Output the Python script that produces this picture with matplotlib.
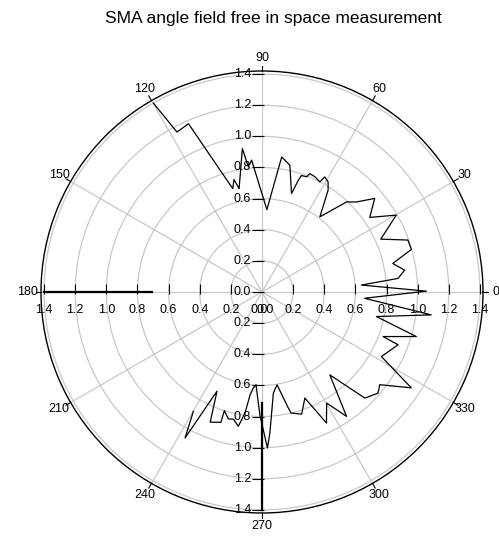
import numpy as np
import matplotlib
matplotlib.use("Agg")
import matplotlib.pyplot as plt
from matplotlib.transforms import offset_copy

plt.rcParams['font.family'] = ['Liberation Sans', 'DejaVu Sans']

# ---- data -------------------------------------------------------------
title = "SMA angle field free in space measurement"
angle_ticks = [0, 30, 60, 90, 120, 150, 180, 210, 240, 270, 300, 330]
radial_ticks = [0.0, 0.2, 0.4, 0.6, 0.8, 1.0, 1.2, 1.4]

# measured field amplitude vs. angle (degrees)
curve_theta_deg = [
    -119.9, -117.8, -114.4, -111.7, -107.5, -107.6, -104.8, -102.7, -100.0,
    -98.0, -96.6, -95.2, -93.7, -91.0, -88.0, -86.8, -83.6, -80.8, -77.3,
    -76.5, -72.0, -68.0, -63.8, -59.8, -55.8, -50.7, -45.9, -41.1, -38.2,
    -32.7, -28.4, -21.2, -20.2, -16.1, -12.1, -7.7, -3.5, 0.3, 4.0, 5.7,
    8.7, 12.3, 15.9, 19.6, 24.0, 29.8, 34.7, 39.7, 43.6, 46.8, 52.4, 57.0,
    59.0, 61.4, 62.3, 65.3, 68.0, 68.8, 71.3, 72.0, 73.3, 77.6, 81.7, 86.6,
    94.5, 96.2, 97.8, 102.5, 104.0, 105.8, 113.6, 118.0, 119.9,
]
curve_r = [
    0.885, 1.06, 0.70, 0.90, 0.878, 0.80, 0.844, 0.837, 0.876,
    0.785, 0.665, 0.62, 0.597, 0.789, 1.003, 0.907, 0.654, 0.604, 0.76,
    0.80, 0.825, 0.735, 0.938, 0.826, 0.966, 0.688, 0.949, 0.989, 0.963,
    1.14, 0.872, 0.938, 0.829, 1.032, 0.752, 1.097, 0.66, 1.056, 0.64, 0.878,
    0.927, 0.86, 0.998, 0.995, 0.835, 0.994, 0.842, 0.941, 0.839, 0.794, 0.609, 0.78,
    0.825, 0.842, 0.799, 0.815, 0.82, 0.794, 0.79, 0.755, 0.66, 0.834, 0.877, 0.53,
    0.85, 0.81, 0.93, 0.68, 0.745, 0.69, 1.18, 1.164, 1.40,
]

# radial spokes of the measurement at 180 and 270 degrees
spoke_theta_deg = [180, 270]
spoke_r_inner = [0.71, 0.71]
spoke_r_outer = [1.40, 1.40]

# ---- figure -----------------------------------------------------------
W, H = 499, 536
fig = plt.figure(figsize=(W / 100, H / 100), dpi=100)
cx, cy = 262, H - 292
rad_px = 221
R_LIM = 1.42
ax = fig.add_axes([(cx - rad_px) / W, (cy - rad_px) / H,
                   2 * rad_px / W, 2 * rad_px / H], projection='polar')
ax.set_ylim(0, R_LIM)
ax.set_xticks(np.deg2rad(angle_ticks))
ax.set_xticklabels([])
ax.set_yticks(radial_ticks[1:])
ax.set_yticklabels([])
ax.tick_params(length=0)
ax.grid(True, color='#c8c8c8', lw=0.9)
ax.spines['polar'].set_color('black')
ax.spines['polar'].set_linewidth(1.0)

# data
ax.plot(np.deg2rad(curve_theta_deg), curve_r, color='black', lw=0.9, zorder=5)
for th, r0, r1 in zip(spoke_theta_deg, spoke_r_inner, spoke_r_outer):
    ax.plot([np.deg2rad(th)] * 2, [r0, r1], color='black', lw=1.6, zorder=5)

fs = 9

# angular labels and outer ticks
for a in angle_ticks:
    t = np.deg2rad(a)
    ax.plot([t, t], [R_LIM, R_LIM + 0.035], color='black', lw=0.8, clip_on=False)
    ax.text(t, 1.505, str(a), ha='center', va='center', fontsize=fs,
            clip_on=False)

# vertical axis labels (left of the axis, upward and downward)
tr_v = offset_copy(ax.transData, fig=fig, x=-11, y=0, units='dots')
tr_vt = offset_copy(ax.transData, fig=fig, x=-4, y=0, units='dots')
for th in (90, 270):
    t = np.deg2rad(th)
    rs = radial_ticks if th == 90 else radial_ticks[1:]
    for r in rs:
        ax.text(t, r, f"{r:.1f}", transform=tr_v, ha='right', va='center',
                fontsize=fs, clip_on=False, zorder=6)
    ax.plot([t] * len(rs), rs, ls='none', marker='_', ms=8, mew=0.8,
            color='black', transform=tr_vt, clip_on=False)

# horizontal axis labels (below the axis, both sides)
tr_h = offset_copy(ax.transData, fig=fig, x=0, y=-18, units='dots')
tr_ht = offset_copy(ax.transData, fig=fig, x=0, y=3, units='dots')
for th, dx in ((180, -3), (0, 3)):
    t = np.deg2rad(th)
    for r in radial_ticks:
        tr = tr_h
        if r == 0.0:
            tr = offset_copy(ax.transData, fig=fig, x=dx, y=-18, units='dots')
        ax.text(t, r, f"{r:.1f}", transform=tr, ha='center', va='center',
                fontsize=fs, clip_on=False, zorder=6)
    ax.plot([t] * (len(radial_ticks) - 1), radial_ticks[1:], ls='none',
            marker='|', ms=7, mew=0.8, color='black', transform=tr_ht,
            clip_on=False)

fig.text(273 / W, 1 - 18 / H, title, ha='center', va='center', fontsize=12.5)

fig.savefig('out.png', dpi=100)
